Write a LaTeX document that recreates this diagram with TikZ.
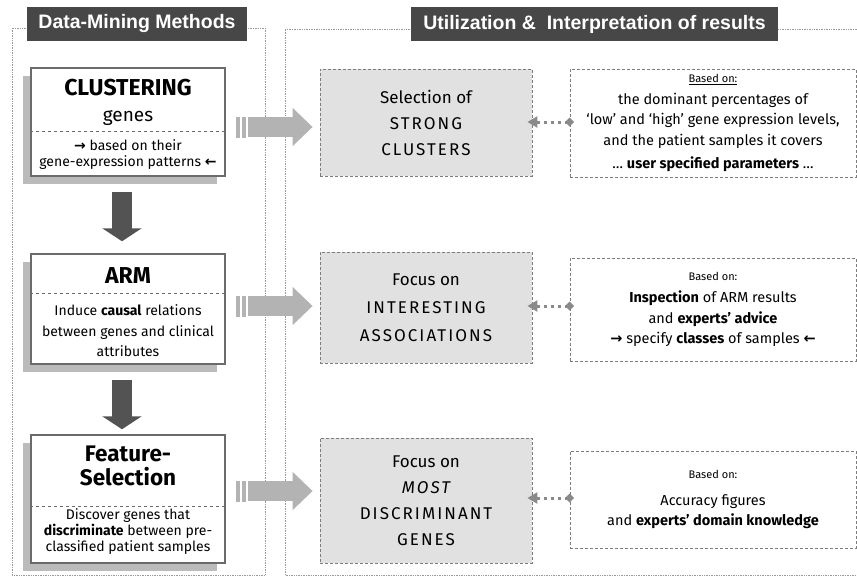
\documentclass[tikz,border=0pt]{standalone}
\usepackage{fontspec}
\setmainfont{Fira Sans}
\newfontfamily\titlefont{Liberation Sans}
\newfontfamily\arrowfont{DejaVu Sans}
\newfontfamily\capsfont{Fira Sans}[LetterSpace=12]
\usetikzlibrary{positioning, arrows.meta, shadows}

\definecolor{headgray}{HTML}{474747}
\definecolor{framegray}{HTML}{999999}
\definecolor{boxgray}{HTML}{6B6B6B}
\definecolor{shadegray}{HTML}{BBBBBB}
\definecolor{darkarrow}{HTML}{535353}
\definecolor{lightarrow}{HTML}{B3B3B3}
\definecolor{focusfill}{HTML}{E1E1E1}
\definecolor{dashgray}{HTML}{7C7C7C}
\definecolor{linkgray}{HTML}{8A8A8A}

\newcommand{\toarr}{{\arrowfont\bfseries →}}
\newcommand{\fromarr}{{\arrowfont\bfseries ←}}
\newcommand{\basedonsize}{\fontsize{11}{12}\selectfont}

\begin{document}
\begin{tikzpicture}[
    x=1pt, y=-1pt,
    every node/.style = {inner sep=0pt},
    frame/.style = {draw=framegray, densely dotted, line width=0.7pt},
    header/.style = {fill=headgray, text=white, minimum height=34pt, font=\titlefont\bfseries\fontsize{19.5}{21}\selectfont},
    methodbox/.style = {draw=boxgray, line width=1.5pt, fill=white, minimum width=194pt,
        drop shadow={shadow xshift=-8pt, shadow yshift=-8pt, fill=shadegray, opacity=1}},
    sepline/.style = {draw=boxgray, dashed, line width=0.6pt},
    methodname/.style = {font=\bfseries\fontsize{23}{24}\selectfont, align=center},
    methodnote/.style = {font=\fontsize{14}{16}\selectfont, align=center},
    focusbox/.style = {draw=dashgray, fill=focusfill, dash pattern=on 3pt off 2pt, line width=0.8pt,
        minimum width=212pt, align=center, font=\fontsize{17}{26}\selectfont},
    basisbox/.style = {draw=dashgray, fill=white, dash pattern=on 3pt off 2pt, line width=0.8pt,
        minimum width=286pt, align=center, font=\fontsize{14.5}{20.5}\selectfont},
    downarrow/.style = {draw=darkarrow, line width=20pt, -{Triangle[width=39pt, length=13pt]}},
    flowarrow/.style = {draw=lightarrow, line width=20pt, -{Triangle[width=37pt, length=20pt]}},
    flowstripe/.style = {draw=lightarrow, line width=21pt},
    hintlink/.style = {draw=linkgray, line width=3pt, dash pattern=on 3pt off 4pt, shorten >=-4.5pt,
        {Triangle[width=11pt, length=10pt]}-{Diamond[width=9pt, length=9pt]}}
]
    \useasboundingbox (0,0) rectangle (857,578);

    % dotted frames and headers
    \draw[frame] (12,28) rectangle (265,575);
    \draw[frame] (857,29) -- (285,29) -- (285,575) -- (857,575);
    \node (methods) [header, minimum width=220pt] at (137,24) {Data-Mining Methods};
    \node (results) [header, minimum width=367pt] at (594.5,24) {Utilization \&\ \ Interpretation of results};

    % data-mining methods
    \node (clust) [methodbox, minimum height=108pt] at (128,122) {};
    \node (arm) [methodbox, minimum height=110pt] at (128,309) {};
    \node (feat) [methodbox, minimum height=128pt] at (128,499) {};
    \draw[sepline] (clust.west |- 0,131) -- (clust.east |- 0,131);
    \draw[sepline] (arm.west |- 0,293) -- (arm.east |- 0,293);
    \draw[sepline] (feat.west |- 0,506) -- (feat.east |- 0,506);

    \node (clust-name) [methodname] at (128,88) {CLUSTERING};
    \node (clust-genes) [font=\fontsize{19}{20}\selectfont] at (128,118) {genes};
    \node (clust-note) [methodnote] at (128,155) {\toarr{} based on their\\gene-expression patterns \fromarr};
    \node (arm-name) [methodname] at (128,276) {ARM};
    \node (arm-note) [methodnote, font=\fontsize{14}{20.5}\selectfont] at (128,331) {Induce \textbf{causal} relations\\between genes and clinical\\attributes};
    \node (feat-name) [methodname, font=\bfseries\fontsize{22.5}{24.5}\selectfont] at (128,466) {Feature-\\Selection};
    \node (feat-note) [methodnote] at (128,532) {Discover genes that\\\textbf{discriminate} between pre-\\classified patient samples};

    \draw[downarrow, shorten <=15pt, shorten >=12pt] ([xshift=-6pt]clust.south) -- ([xshift=-6pt]arm.north);
    \draw[downarrow, shorten <=15pt, shorten >=5pt] ([xshift=-6pt]arm.south) -- ([xshift=-6pt]feat.north);

    % utilization of results
    \node (strong) [focusbox, minimum height=107pt] at (426,122.5)
        {Selection of\\{\capsfont STRONG}\\{\capsfont CLUSTERS}};
    \node (assoc) [focusbox, minimum height=111pt, font=\fontsize{17}{28}\selectfont] at (426,307.5)
        {Focus on\\{\capsfont INTERESTING}\\{\capsfont ASSOCIATIONS}};
    \node (discr) [focusbox, minimum height=125pt] at (426,500.5)
        {Focus on\\{\capsfont\itshape MOST}\\{\capsfont DISCRIMINANT}\\{\capsfont GENES}};

    \node (basis1) [basisbox, minimum height=108pt] at (713,123)
        {{\basedonsize\underline{Based on:}}\\[1pt]
         the dominant percentages of\\`low' and `high' gene expression levels,\\and the patient samples it covers\\[3pt]
         \dots\ \textbf{user specified parameters} \dots};
    \node (basis2) [basisbox, minimum height=103pt] at (713,309.5)
        {{\basedonsize Based on:}\\[2pt]
         \textbf{Inspection} of ARM results\\and \textbf{experts' advice}\\\toarr{} specify \textbf{classes} of samples \fromarr};
    \node (basis3) [basisbox, minimum height=97pt] at (713,499.5)
        {{\basedonsize Based on:}\\[6pt]
         Accuracy figures\\and \textbf{experts' domain knowledge}};

    % flow arrows
    \foreach \src/\dst/\row in {clust/strong/127, arm/assoc/306, feat/discr/491} {
        \draw[flowstripe] ([xshift=10pt]\src.east |- 0,\row) -- ([xshift=14pt]\src.east |- 0,\row);
        \draw[flowstripe] ([xshift=16pt]\src.east |- 0,\row) -- ([xshift=20pt]\src.east |- 0,\row);
        \draw[flowarrow] ([xshift=22pt]\src.east |- 0,\row) -- ([xshift=-7pt]\dst.west |- 0,\row);
    }
    \foreach \dst/\src/\row in {strong/basis1/122, assoc/basis2/306, discr/basis3/498}
        \draw[hintlink] ([xshift=-5pt]\dst.east |- 0,\row) -- (\src.west |- 0,\row);
\end{tikzpicture}
\end{document}
